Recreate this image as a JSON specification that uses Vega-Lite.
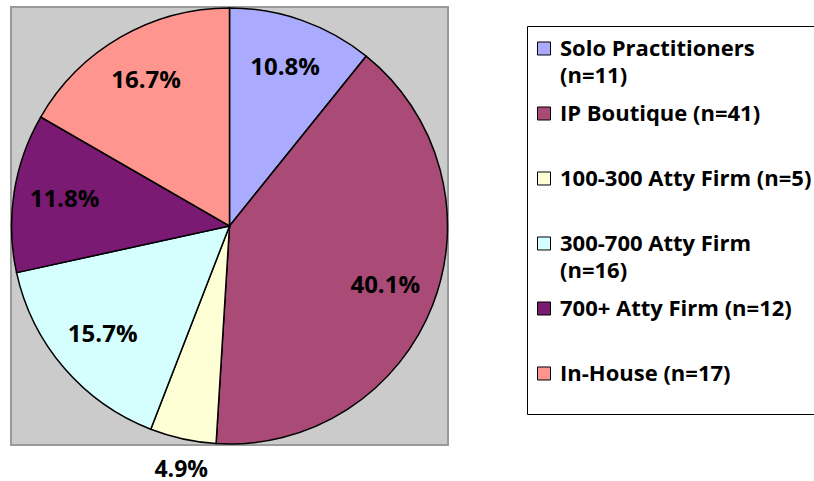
{
  "$schema": "https://vega.github.io/schema/vega-lite/v6.json",
  "width": 437,
  "height": 438,
  "autosize": "none",
  "padding": {"left": 11, "top": 7, "right": 366, "bottom": 36},
  "background": "white",
  "view": {"fill": "#cbcbcb", "stroke": "#9a9a9a", "strokeWidth": 2},
  "data": {
    "values": [
      {"category": "Solo Practitioners (n=11)", "n": 11, "label": "10.8%"},
      {"category": "IP Boutique (n=41)", "n": 41, "label": "40.1%"},
      {"category": "100-300 Atty Firm (n=5)", "n": 5, "label": "4.9%"},
      {"category": "300-700 Atty Firm (n=16)", "n": 16, "label": "15.7%"},
      {"category": "700+ Atty Firm (n=12)", "n": 12, "label": "11.8%"},
      {"category": "In-House (n=17)", "n": 17, "label": "16.7%"}
    ]
  },
  "transform": [{"window": [{"op": "row_number", "as": "idx"}]}],
  "encoding": {
    "theta": {"field": "n", "type": "quantitative", "stack": true},
    "order": {"field": "idx", "type": "quantitative"}
  },
  "layer": [
    {
      "mark": {"type": "arc", "outerRadius": 218, "stroke": "black", "strokeWidth": 1.5},
      "encoding": {
        "color": {
          "field": "category",
          "type": "nominal",
          "sort": ["Solo Practitioners (n=11)", "IP Boutique (n=41)", "100-300 Atty Firm (n=5)", "300-700 Atty Firm (n=16)", "700+ Atty Firm (n=12)", "In-House (n=17)"],
          "scale": {"range": ["#aaaaff", "#a94a77", "#ffffd5", "#d5ffff", "#7a1a73", "#ff958f"]},
          "legend": {
            "orient": "none",
            "legendX": 516,
            "legendY": 19,
            "title": null,
            "direction": "vertical",
            "symbolType": "M-1,0.46H1V2.46H-1Z",
            "symbolSize": 169,
            "symbolStrokeColor": "black",
            "symbolStrokeWidth": 1,
            "symbolOpacity": 1,
            "symbolOffset": 4,
            "labelFont": "Open Sans",
            "labelFontWeight": "bold",
            "labelFontSize": 22,
            "labelColor": "black",
            "labelBaseline": "top",
            "labelOffset": 5,
            "labelLimit": 500,
            "labelExpr": "(indexof(datum.label, 'Solo') == 0 || indexof(datum.label, '300-700') == 0) ? [slice(datum.label, 0, indexof(datum.label, ' (')), slice(datum.label, indexof(datum.label, ' (') + 1)] : [datum.label, '']",
            "rowPadding": 6,
            "padding": 2,
            "strokeColor": "black",
            "fillColor": "white"
          }
        }
      }
    },
    {
      "mark": {"type": "text", "radius": 167, "font": "Open Sans", "fontWeight": "bold", "fontSize": 24, "color": "black"},
      "encoding": {
        "text": {"condition": {"test": "datum.n < 6", "value": ""}, "field": "label"}
      }
    },
    {
      "mark": {"type": "text", "radius": 249, "dx": 5, "dy": 1, "font": "Open Sans", "fontWeight": "bold", "fontSize": 23, "color": "black"},
      "encoding": {
        "text": {"condition": {"test": "datum.n >= 6", "value": ""}, "field": "label"}
      }
    }
  ],
  "config": {
    "style": {"guide-label": {"lineHeight": 27}}
  }
}
